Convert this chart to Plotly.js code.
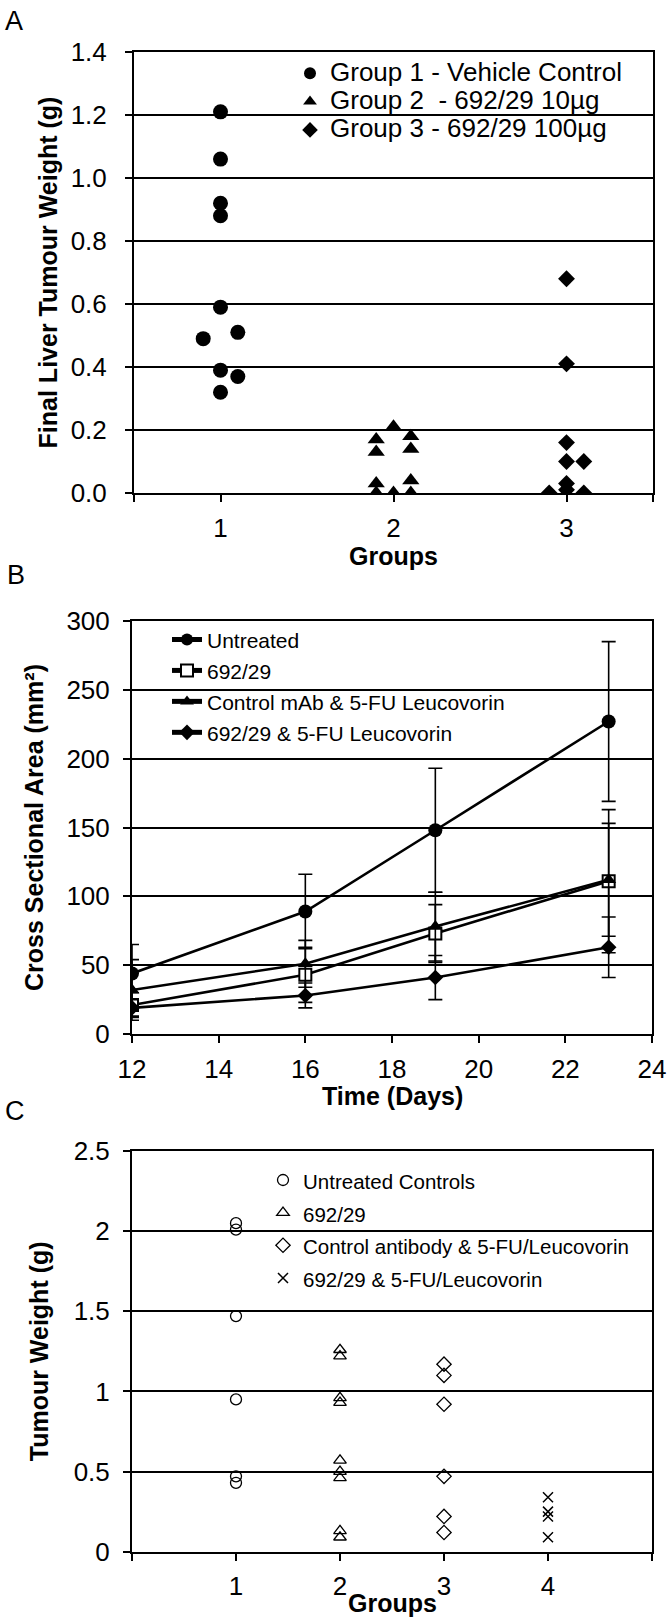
<!DOCTYPE html>
<html><head><meta charset="utf-8">
<script src="https://cdn.plot.ly/plotly-3.0.1.min.js"></script>
<style>html,body{margin:0;padding:0;background:#fff}#chart{width:672px;height:1621px}</style>
</head><body><div id="chart"></div>
<script>
// ---------- Panel A : final liver tumour weight (g) ----------
const namesA = ["Group 1 - Vehicle Control", "Group 2 \u00a0- 692/29 10µg", "Group 3 - 692/29 100µg"];
const groupA1X = [1, 1, 1, 1, 1, 0.9, 1.1, 1, 1.1, 1];
const groupA1Y = [1.21, 1.06, 0.92, 0.88, 0.59, 0.49, 0.51, 0.39, 0.37, 0.32];
const groupA2X = [1.9, 1.9, 1.9, 1.9, 2, 2, 2.1, 2.1, 2.1, 2.1];
const groupA2Y = [0.17, 0.13, 0.03, 0.0, 0.21, 0.0, 0.18, 0.14, 0.04, 0.0];
const groupA3X = [3, 3, 3, 3, 3.1, 3, 3, 2.9, 3.1];
const groupA3Y = [0.68, 0.41, 0.16, 0.10, 0.10, 0.03, 0.01, 0.0, 0.0];
const ticksAX = [1, 2, 3];
const edgeTicksAX = [0.5, 3.5];

// ---------- Panel B : cross sectional area (mm2) over time ----------
const namesB = ["Untreated", "692/29", "Control mAb & 5-FU Leucovorin", "692/29 & 5-FU Leucovorin"];
const daysB = [12, 16, 19, 23];
const untreatedB = [44, 89, 148, 227];
const untreatedErrB = [21, 27, 45, 58];
const mabB = [21, 43, 73, 111];
const mabErrB = [9, 20, 21, 52];
const controlB = [32, 51, 78, 112];
const controlErrB = [22, 17, 25, 41];
const comboB = [19, 28, 41, 63];
const comboErrB = [6, 9, 16, 22];

// ---------- Panel C : tumour weight (g) by group ----------
const namesC = ["Untreated Controls", "692/29", "Control antibody & 5-FU/Leucovorin", "692/29 & 5-FU/Leucovorin"];
const groupsC = [1, 2, 3, 4];
const untreatedC = [2.05, 2.01, 1.47, 0.95, 0.47, 0.43];
const mabC = [1.26, 1.22, 0.96, 0.93, 0.57, 0.50, 0.46, 0.13, 0.09];
const controlC = [1.17, 1.10, 0.92, 0.47, 0.22, 0.12];
const comboC = [0.34, 0.25, 0.22, 0.09];
const edgeTicksCX = [0, 5];

// ---------- geometry (pixels) ----------
const W = 672, H = 1621;
const FONT = "Liberation Sans, Arial, Helvetica, sans-serif";
const px = v => v / W;
const py = v => 1 - v / H;
const span = (t, s) => '<span style="font-size:' + s + 'px">' + t + '</span>';

const BLACK = "#000";
const axisCommon = {
  showline: true, mirror: true, linecolor: BLACK, linewidth: 2,
  ticks: "outside", ticklen: 7, tickwidth: 2, tickcolor: BLACK,
  zeroline: false, fixedrange: true,
  tickfont: {family: FONT, size: 26, color: BLACK}
};
const edgeMinor = vals => ({tickmode: "array", tickvals: vals, ticks: "outside", ticklen: 7,
  tickwidth: 2, tickcolor: BLACK, showgrid: false});
const titleFont = {family: FONT, size: 25, color: BLACK, weight: "bold"};

const traces = [];
// Panel A
traces.push({x: groupA1X, y: groupA1Y, name: span(namesA[0], 26), type: "scatter", mode: "markers",
  marker: {symbol: "circle", size: 15, color: BLACK}, xaxis: "x", yaxis: "y", legend: "legend"});
traces.push({x: groupA2X, y: groupA2Y, name: span(namesA[1], 26), type: "scatter", mode: "markers",
  marker: {symbol: "triangle-up", size: 15, color: BLACK}, xaxis: "x", yaxis: "y", legend: "legend"});
traces.push({x: groupA3X, y: groupA3Y, name: span(namesA[2], 26), type: "scatter", mode: "markers",
  marker: {symbol: "diamond", size: 13, color: BLACK}, xaxis: "x", yaxis: "y", legend: "legend"});

// Panel B
const errStyle = arr => ({type: "data", array: arr, visible: true, color: BLACK, thickness: 1.6, width: 7});
const seriesB = [
  [untreatedB, untreatedErrB, {symbol: "circle", size: 14, color: BLACK}],
  [mabB, mabErrB, {symbol: "square", size: 12, color: "#fff", line: {color: BLACK, width: 2}}],
  [controlB, controlErrB, {symbol: "triangle-up", size: 13, color: BLACK}],
  [comboB, comboErrB, {symbol: "diamond", size: 12, color: BLACK}]
];
seriesB.forEach((s, i) => {
  traces.push({x: daysB, y: s[0], error_y: errStyle(s[1]), name: span(namesB[i], 21),
    type: "scatter", mode: "lines+markers", line: {color: BLACK, width: 2.6},
    marker: s[2], xaxis: "x2", yaxis: "y2", legend: "legend2"});
});

// Panel C
const seriesC = [
  [untreatedC, {symbol: "circle-open", size: 11, color: BLACK, line: {width: 1.3}}],
  [mabC, {symbol: "triangle-up-open", size: 11, color: BLACK, line: {width: 1.3}}],
  [controlC, {symbol: "diamond-open", size: 11, color: BLACK, line: {width: 1.3}}],
  [comboC, {symbol: "x-thin-open", size: 10, color: BLACK, line: {width: 1.5, color: BLACK}}]
];
seriesC.forEach((s, i) => {
  traces.push({x: s[0].map(() => groupsC[i]), y: s[0], name: span(namesC[i], 20.5),
    type: "scatter", mode: "markers", marker: s[1], xaxis: "x3", yaxis: "y3", legend: "legend3"});
});

const ann = (text, x, y, size, bold) => ({text: text, x: px(x), y: py(y), xref: "paper", yref: "paper",
  xanchor: "center", yanchor: "middle", showarrow: false,
  font: {family: FONT, size: size, color: BLACK, weight: bold ? "bold" : "normal"}});

const layout = {
  width: W, height: H, margin: {l: 0, r: 0, t: 0, b: 0},
  paper_bgcolor: "#fff", plot_bgcolor: "#fff",
  font: {family: FONT, color: BLACK},
  showlegend: true,
  // Panel A axes
  xaxis: Object.assign({}, axisCommon, {domain: [px(134), px(653)], anchor: "y",
    range: [0.5, 3.5], tickmode: "array", tickvals: ticksAX, showgrid: false,
    minor: edgeMinor(edgeTicksAX), ticklabelstandoff: 4}),
  yaxis: Object.assign({}, axisCommon, {domain: [py(493), py(52)], anchor: "x",
    range: [0, 1.4], tick0: 0, dtick: 0.2, tickformat: ".1f",
    showgrid: true, gridcolor: BLACK, gridwidth: 2, ticklabelstandoff: 13,
    title: {text: "Final Liver Tumour Weight (g)", font: titleFont, standoff: 6}}),
  // Panel B axes
  xaxis2: Object.assign({}, axisCommon, {domain: [px(132), px(652)], anchor: "y2",
    range: [12, 24], tick0: 12, dtick: 2, showgrid: false, ticklabelstandoff: 4}),
  yaxis2: Object.assign({}, axisCommon, {domain: [py(1034), py(621)], anchor: "x2",
    range: [0, 300], tick0: 0, dtick: 50,
    showgrid: true, gridcolor: BLACK, gridwidth: 2, ticklabelstandoff: 8,
    title: {text: "Cross Sectional Area (mm²)", font: titleFont, standoff: 16}}),
  // Panel C axes
  xaxis3: Object.assign({}, axisCommon, {domain: [px(132), px(652)], anchor: "y3",
    range: [0, 5], tickmode: "array", tickvals: groupsC, showgrid: false,
    minor: edgeMinor(edgeTicksCX), ticklabelstandoff: 3}),
  yaxis3: Object.assign({}, axisCommon, {domain: [py(1551.7), py(1151)], anchor: "x3",
    range: [0, 2.5], tick0: 0, dtick: 0.5,
    showgrid: true, gridcolor: BLACK, gridwidth: 2, ticklabelstandoff: 8,
    title: {text: "Tumour Weight (g)", font: titleFont, standoff: 18}}),
  legend: {x: px(290), y: py(54), xanchor: "left", yanchor: "top", bgcolor: "rgba(0,0,0,0)",
    font: {family: FONT, size: 19.5, color: BLACK}, itemsizing: "constant", tracegroupgap: 0},
  legend2: {x: px(167), y: py(619), xanchor: "left", yanchor: "top", bgcolor: "rgba(0,0,0,0)",
    font: {family: FONT, size: 21.5, color: BLACK}, itemsizing: "constant", tracegroupgap: 0},
  legend3: {x: px(263), y: py(1158.7), xanchor: "left", yanchor: "top", bgcolor: "rgba(0,0,0,0)",
    font: {family: FONT, size: 22.8, color: BLACK}, itemsizing: "trace", tracegroupgap: 0},
  annotations: [
    ann("A", 14, 21, 27, false),
    ann("B", 16, 575, 27, false),
    ann("C", 15, 1111, 27, false),
    ann("Groups", 393.5, 556, 25, true),
    ann("Time (Days)", 392, 1096, 25, true),
    ann("Groups", 392, 1603, 25, true)
  ]
};

Plotly.newPlot("chart", traces, layout, {displayModeBar: false, staticPlot: true});
</script>
</body></html>
